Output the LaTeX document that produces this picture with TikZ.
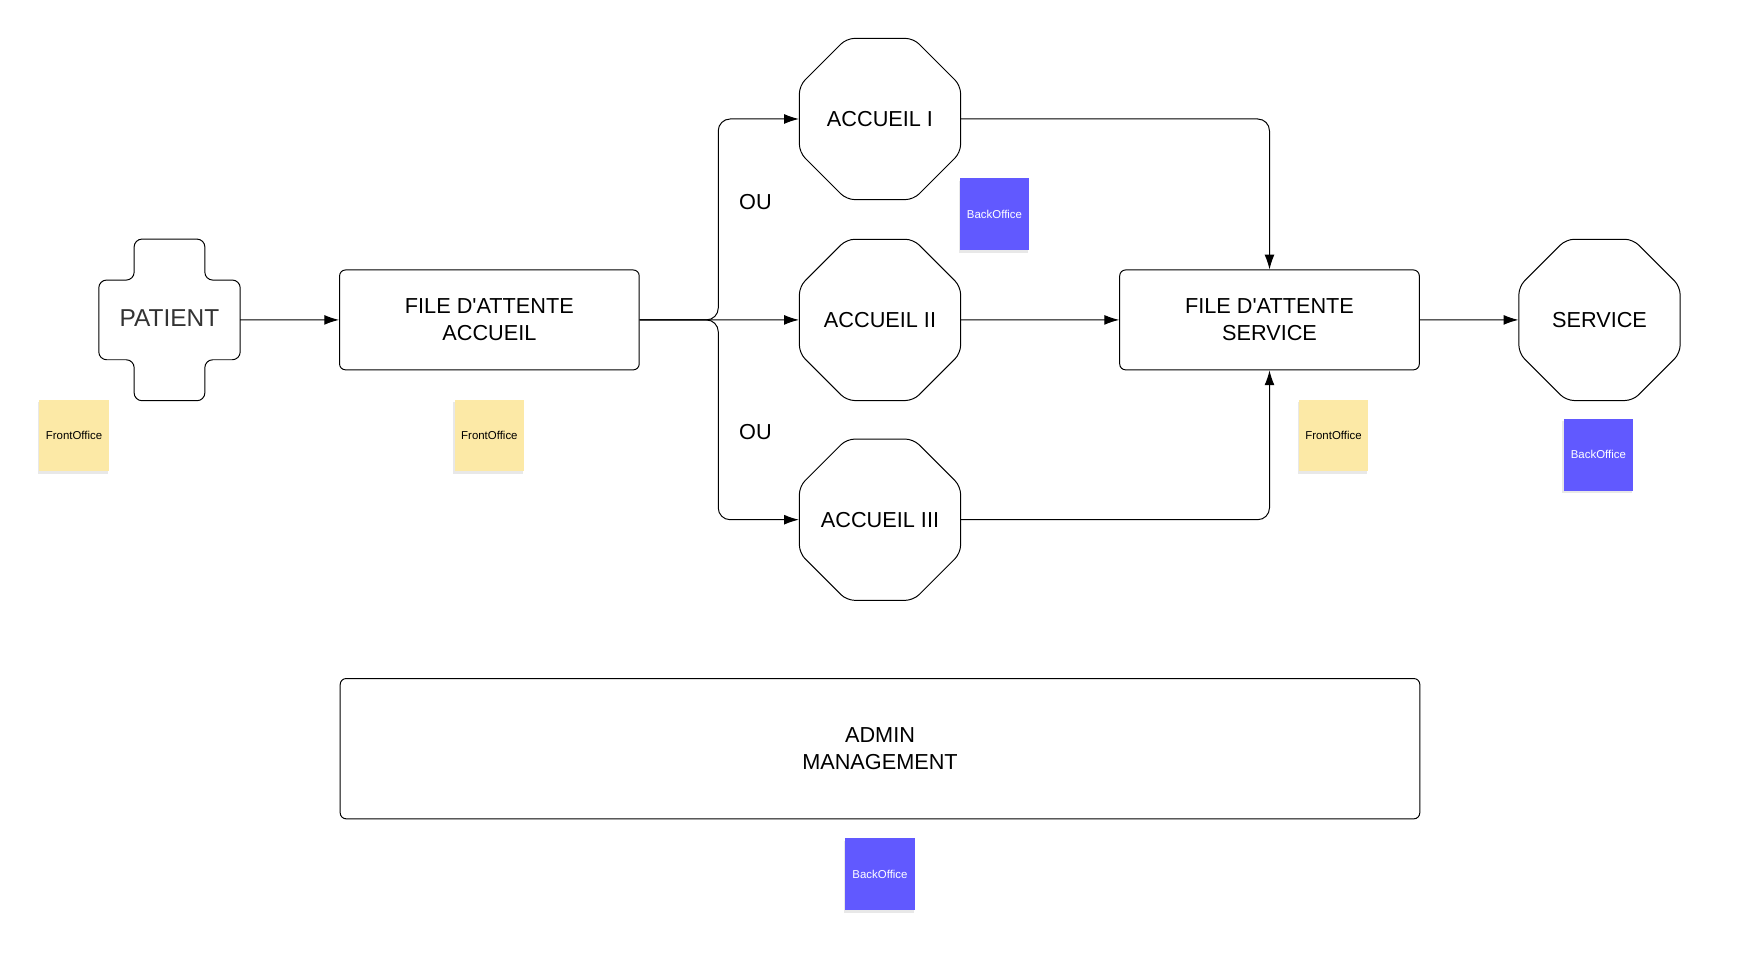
\documentclass[tikz,border=0pt]{standalone}
\usepackage{fontspec}
\setmainfont{Liberation Sans}
\usetikzlibrary{arrows.meta,positioning,shapes.geometric,shadows}
\definecolor{noteyellow}{RGB}{252,233,166}
\definecolor{noteviolet}{RGB}{97,89,255}
\definecolor{patientgray}{RGB}{51,51,51}
\tikzset{>={Latex[length=7.5pt,width=5pt]},
	every path/.style={line width=0.5pt},
	lbl/.style={font=\fontsize{11}{13.7}\selectfont, align=center},
	octa/.style={lbl, draw, regular polygon, regular polygon sides=8,
		minimum size=3.11cm, inner sep=-12pt, rounded corners=4pt},
	queue/.style={lbl, draw, rounded corners=3pt,
		minimum width=5.34cm, minimum height=1.78cm},
	note/.style={minimum width=1.24cm, minimum height=1.28cm, inner sep=0pt,
		font=\fontsize{5.8}{7}\selectfont,
		drop shadow={shadow xshift=-0.6pt, shadow yshift=-1.4pt, opacity=0.18}},
	front/.style={note, fill=noteyellow, text=black},
	back/.style={note, fill=noteviolet, text=white}}

\begin{document}
\begin{tikzpicture}[x=0.02cm, y=-0.02cm]
	\useasboundingbox (0,0) rectangle (1568,849);
	
	\node[lbl, font=\fontsize{12.4}{14}\selectfont, text=patientgray] (patient) at (151,283) {PATIENT};
	\draw[shift={(patient.center)}, yshift=-0.04cm, rounded corners=4pt]
		(-31.5,-72) -- (31.5,-72) -- (31.5,-35.5) -- (63,-35.5) -- (63,35.5)
		-- (31.5,35.5) -- (31.5,72) -- (-31.5,72) -- (-31.5,35.5) -- (-63,35.5)
		-- (-63,-35.5) -- (-31.5,-35.5) -- cycle;
	\coordinate[right=1.26cm of patient.center, yshift=-0.04cm] (patient east);
	
	\node[queue] (fileA) at (436,285) {FILE D\textquotesingle ATTENTE\\ACCUEIL};
	\node[octa] (acc1) at (784,106) {ACCUEIL I};
	\node[octa] (acc2) at (784,285) {ACCUEIL II};
	\node[octa] (acc3) at (784,463) {ACCUEIL III};
	\node[queue] (fileS) at (1131,285) {FILE D\textquotesingle ATTENTE\\SERVICE};
	\node[octa] (service) at (1425,285) {SERVICE};
	\node[queue, minimum width=19.24cm, minimum height=2.5cm] (admin) at (784,667) {ADMIN\\MANAGEMENT};
	
	\node[lbl] (ou1) at (673,180) {OU};
	\node[lbl] (ou2) at (673,385) {OU};
	
	\node[front] (fo1) at (66,388) {FrontOffice};
	\node[front] (fo2) at (436,388) {FrontOffice};
	\node[front] (fo3) at (1188,388) {FrontOffice};
	\node[back] (bo1) at (886,191) {BackOffice};
	\node[back] (bo2) at (1424,405) {BackOffice};
	\node[back] (bo3) at (784,779) {BackOffice};
	
	\coordinate[right=1.4cm of fileA.east] (split);
	
	\draw[->] (patient east) -- (fileA.west);
	\draw[->, rounded corners=6pt] (fileA.east) -- (split) |- (acc1.west);
	\draw[->] (fileA.east) -- (acc2.west);
	\draw[->, rounded corners=6pt] (fileA.east) -- (split) |- (acc3.west);
	\draw[->, rounded corners=6pt] (acc1.east) -| (fileS.north);
	\draw[->] (acc2.east) -- (fileS.west);
	\draw[->, rounded corners=6pt] (acc3.east) -| (fileS.south);
	\draw[->] (fileS.east) -- (service.west);
\end{tikzpicture}
\end{document}
